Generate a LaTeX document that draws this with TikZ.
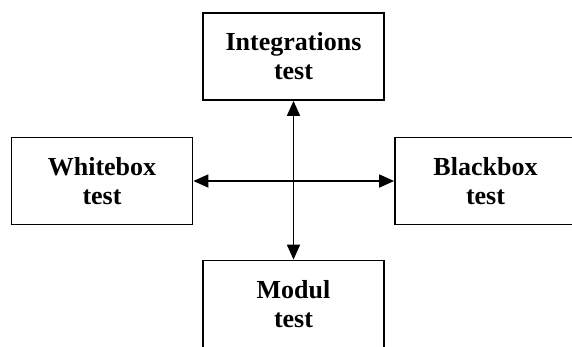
\documentclass[tikz,border=0pt]{standalone}
\usepackage{fontspec}
\setmainfont{Liberation Serif}
\usetikzlibrary{arrows.meta}
\begin{document}
\begin{tikzpicture}[x=1pt,y=-1pt,
  testbox/.style={draw,line width=1.8pt,align=center,inner sep=0pt,
    minimum width=181pt,minimum height=87pt,
    font=\fontsize{26}{29}\selectfont\bfseries},
  both/.style={{Triangle[length=15pt,width=13pt]}-{Triangle[length=15pt,width=13pt]},line width=1.8pt}]
\useasboundingbox (0,0) rectangle (572,346);
\node [testbox] (integ) at (293.5,56.5) {Integrations\\test};
\node [testbox] (white) at (102,181) {Whitebox\\test};
\node [testbox] (black) at (485.5,181) {Blackbox\\test};
\node [testbox] (modul) at (293.5,304) {Modul\\test};
\draw [both] (integ.south) -- (modul.north);
\draw [both] (white.east) -- (black.west);
\end{tikzpicture}
\end{document}
